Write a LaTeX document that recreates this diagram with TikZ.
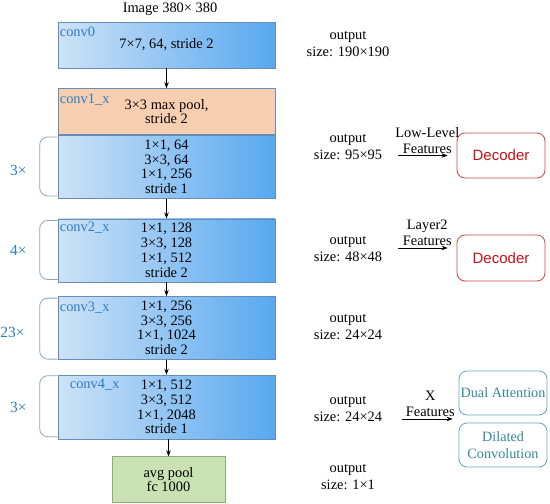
\documentclass[tikz,border=0pt]{standalone}
\usepackage{fontspec}
\setmainfont{Liberation Serif}
\newfontfamily\decfont{Liberation Sans}
\usepackage{tikz}
\usetikzlibrary{arrows.meta, positioning}
\definecolor{blockleft}{RGB}{205, 226, 246}
\definecolor{blockright}{RGB}{88, 168, 240}
\definecolor{blockedge}{RGB}{105, 140, 180}
\definecolor{poolfill}{RGB}{248, 206, 176}
\definecolor{fcfill}{RGB}{200, 226, 180}
\definecolor{fcedge}{RGB}{140, 175, 115}
\definecolor{tagblue}{RGB}{45, 125, 195}
\definecolor{bracegray}{RGB}{140, 165, 192}
\definecolor{decred}{RGB}{200, 15, 20}
\definecolor{decedge}{RGB}{205, 70, 70}
\definecolor{aspteal}{RGB}{50, 135, 158}
\definecolor{aspedge}{RGB}{100, 165, 188}

\begin{document}
\begin{tikzpicture}[
        x=1pt, y=-1pt,
        font=\fontsize{14.4}{14.7}\selectfont,
        stage/.style={draw=blockedge, line width=0.6pt, minimum width=217pt,
                      minimum height=63pt, align=center, inner sep=0pt,
                      left color=blockleft, right color=blockright},
        tag/.style={anchor=north west, text=tagblue, inner sep=2pt},
        mult/.style={text=tagblue, inner sep=0pt, font=\fontsize{15.5}{16}\selectfont},
        brace/.style={draw=bracegray, line width=0.8pt, rounded corners=8pt},
        outsize/.style={align=center, inner sep=0pt, font=\fontsize{14.4}{17}\selectfont},
        featlabel/.style={above, align=center, inner sep=2pt, font=\fontsize{14.4}{16}\selectfont},
        decoder/.style={draw=decedge, line width=0.8pt, rounded corners=8pt, minimum width=88pt,
                        minimum height=45pt, text=decred, font=\decfont\fontsize{15}{16}\selectfont},
        aspp/.style={draw=aspedge, line width=0.8pt, rounded corners=8pt, minimum width=88pt,
                     minimum height=44pt, inner sep=1pt, text=aspteal, align=center,
                     font=\fontsize{14.2}{17}\selectfont},
        arrow/.style={-{Stealth[length=6pt, width=4.5pt]}, line width=0.7pt}
      ]
        \useasboundingbox (0,0) rectangle (550,504);
        \node (title) at (170,9) {Image 380× 380};
        \node[stage, minimum height=46pt] (conv0) at (166.5,45) {7×7, 64, stride 2};
        \node[stage, minimum height=46pt, left color=poolfill, right color=poolfill,
              below=20pt of conv0] (conv1) {3×3 max pool,\\stride 2};
        \node[stage, below=0pt of conv1] (block1) {1×1, 64\\3×3, 64\\1×1, 256\\stride 1};
        \node[stage, below=20pt of block1] (conv2) {1×1, 128\\3×3, 128\\1×1, 512\\stride 2};
        \node[stage, below=14pt of conv2] (conv3) {1×1, 256\\3×3, 256\\1×1, 1024\\stride 2};
        \node[stage, minimum height=64pt, below=15pt of conv3] (conv4) {1×1, 512\\3×3, 512\\1×1, 2048\\stride 1};
        \node[stage, minimum width=113pt, minimum height=46pt, draw=fcedge,
              left color=fcfill, right color=fcfill, below=17pt of conv4, xshift=2pt] (avgpool) {avg pool\\fc 1000};

        \node[tag] (lconv0) at ([yshift=-3pt]conv0.north west) {conv0};
        \node[tag] (lconv1) at ([yshift=-3pt]conv1.north west) {conv1\_x};
        \node[tag] (lconv2) at ([yshift=-1pt]conv2.north west) {conv2\_x};
        \node[tag] (lconv3) at ([yshift=-4pt]conv3.north west) {conv3\_x};
        \node[tag, xshift=10pt] (lconv4) at ([yshift=-2pt]conv4.north west) {conv4\_x};

        \draw[arrow] (conv0) -- (conv1);
        \draw[arrow] (block1) -- (conv2);
        \draw[arrow] (conv2) -- (conv3);
        \draw[arrow] (conv3) -- (conv4);
        \draw[arrow] (conv4.south -| avgpool.north) -- (avgpool);

        \draw[brace] ([yshift=-2pt]block1.north west) -- ++(-18,0) -- ++(0,59) -- ++(18,0);
        \draw[brace] ([yshift=-2pt]conv2.north west) -- ++(-18,0) -- ++(0,59) -- ++(18,0);
        \draw[brace] ([yshift=-2pt]conv3.north west) -- ++(-18,0) -- ++(0,61) -- ++(18,0);
        \draw[brace] ([yshift=-1pt]conv4.north west) -- ++(-18,0) -- ++(0,61) -- ++(18,0);
        \node[mult, anchor=east, left=31pt of block1.west, yshift=-4pt] (m1) {3×};
        \node[mult, anchor=east, left=31pt of conv2.west] (m2) {4×};
        \node[mult, anchor=east, left=33pt of conv3.west, yshift=-5pt] (m3) {23×};
        \node[mult, anchor=east, left=31pt of conv4.west] (m4) {3×};

        \node[outsize] (out190) at (348,44.5) {output\\size: 190×190};
        \node[outsize] (out95) at (348,147) {output\\size: 95×95};
        \node[outsize] (out48) at (348,249) {output\\size: 48×48};
        \node[outsize] (out24a) at (348,327) {output\\size: 24×24};
        \node[outsize] (out24b) at (348,409) {output\\size: 24×24};
        \node[outsize] (out1) at (348,477) {output\\size: 1×1};

        \node[decoder] (dec1) at (501,155.5) {Decoder};
        \node[decoder, minimum height=46pt] (dec2) at (501,258) {Decoder};
        \node[aspp] (dual) at (503,393) {Dual Attention};
        \node[aspp] (dilated) at (503,445) {Dilated\\Convolution};

        \coordinate (lowfeat) at (398,155.5);
        \coordinate (l2feat) at (398,248);
        \coordinate (xfeat) at (402,419);
        \draw[arrow, shorten >=9pt] (lowfeat) -- node[featlabel] (llow) {Low-Level\\Features} (lowfeat -| dec1.west);
        \draw[arrow, shorten >=9pt] (l2feat) -- node[featlabel] (ll2) {Layer2\\Features} (l2feat -| dec2.west);
        \draw[arrow, shorten >=6pt] (xfeat) -- node[featlabel] (lx) {X\\Features} (xfeat -| dual.west);
      \end{tikzpicture}
\end{document}
